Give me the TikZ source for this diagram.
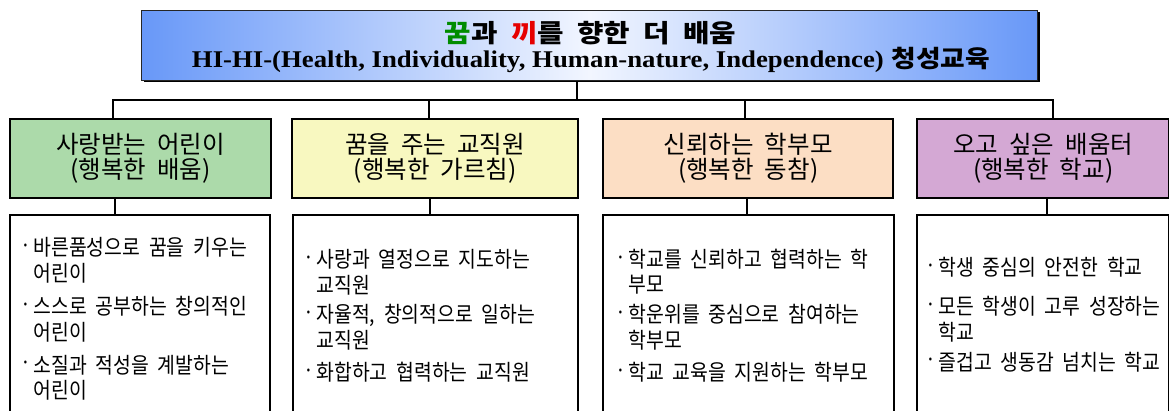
\documentclass[tikz,border=0pt]{standalone}
\usepackage{fontspec}
\setmainfont[WordSpace=2]{Noto Sans CJK KR}
\newfontfamily\itemfont[FakeStretch=0.88,WordSpace=2]{Noto Sans CJK KR}
\newfontfamily\latinserif{Liberation Serif}
\definecolor{tblue}{RGB}{104,152,248}
\definecolor{tmid}{RGB}{242,246,255}
\definecolor{tgreen}{RGB}{0,140,0}
\definecolor{tred}{RGB}{230,0,0}
\definecolor{cgreen}{RGB}{172,218,170}
\definecolor{cyellow}{RGB}{248,248,192}
\definecolor{cpeach}{RGB}{252,222,196}
\definecolor{cpurple}{RGB}{212,168,212}
\newcommand{\mybul}[1]{\begin{tabular}[t]{@{}l@{\hspace{2.5pt}}l@{}}\raisebox{2pt}{·}&#1\end{tabular}}
\begin{document}
\begin{tikzpicture}[x=1pt,y=-1pt,
  conn/.style={draw=black,line width=2pt},
  titlebox/.style={anchor=north west,draw=black!85,line width=0.8pt,inner sep=0pt,
    left color=tblue,right color=tblue,middle color=tmid},
  catbox/.style={draw=black,line width=2.4pt,anchor=north west,inner sep=0pt,align=center,
    font=\fontsize{24.5}{25}\selectfont,minimum height=79pt},
  listbox/.style={draw=black,line width=2pt,anchor=north west,inner sep=0pt,minimum height=220pt,fill=white},
  item/.style={anchor=base west,inner sep=0pt,font=\itemfont\fontsize{22}{23}\selectfont}]
\useasboundingbox (0,0) rectangle (1169,411);
% title
\fill[black] (143.5,12.5) rectangle (1039.5,82.5);
\node[titlebox,minimum width=896pt,minimum height=70pt] (title) at (141,10) {};
\node[anchor=base,inner sep=0pt,font=\bfseries\fontsize{25}{25}\selectfont] (ttl1) at (590.5,43)
  {\resizebox{291pt}{\height}{\textcolor{tgreen}{꿈}과 \textcolor{tred}{끼}를 향한 더 배움}};
\node[anchor=base,inner sep=0pt,font=\bfseries\fontsize{24}{24}\selectfont] (ttl2) at (591,68)
  {\resizebox{798pt}{\height}{{\latinserif HI-HI-(Health, Individuality, Human-nature, Independence)}\hspace{7pt}청성교육}};
% category boxes
\node[catbox,fill=cgreen,minimum width=261pt] (c1) at (9,118) {사랑받는 어린이\\(행복한 배움)};
\node[catbox,fill=cyellow,minimum width=286pt] (c2) at (291,118) {꿈을 주는 교직원\\(행복한 가르침)};
\node[catbox,fill=cpeach,minimum width=290pt] (c3) at (602,118) {신뢰하는 학부모\\(행복한 동참)};
\node[catbox,fill=cpurple,minimum width=252pt] (c4) at (916,118) {오고 싶은 배움터\\(행복한 학교)};
% list boxes
\node[listbox,minimum width=260pt] (l1) at (9,214) {};
\node[listbox,minimum width=285pt] (l2) at (292,214) {};
\node[listbox,minimum width=291pt] (l3) at (602,214) {};
\node[listbox,minimum width=252pt] (l4) at (916,214) {};
% connectors
\coordinate (t0) at (577,100);
\coordinate (t1) at (113,100);
\coordinate (t2) at (429,100);
\coordinate (t3) at (745,100);
\coordinate (t4) at (1053,100);
\draw[conn] (t0 |- title.south) -- (t0);
\draw[conn] (t1 |- c1.north) -- (t1) -- (t4) -- (t4 |- c4.north);
\draw[conn] (t2) -- (t2 |- c2.north);
\draw[conn] (t3) -- (t3 |- c3.north);
\coordinate (b1) at (115,0);
\coordinate (b2) at (430,0);
\coordinate (b3) at (747,0);
\coordinate (b4) at (1047,0);
\draw[conn] (b1 |- c1.south) -- (b1 |- l1.north);
\draw[conn] (b2 |- c2.south) -- (b2 |- l2.north);
\draw[conn] (b3 |- c3.south) -- (b3 |- l3.north);
\draw[conn] (b4 |- c4.south) -- (b4 |- l4.north);
% items box 1
\node[item] (i11) at (20,256) {\mybul{바른품성으로 꿈을 키우는\\&어린이}};
\node[item] (i12) at (20,315) {\mybul{스스로 공부하는 창의적인\\&어린이}};
\node[item] (i13) at (20,373) {\mybul{소질과 적성을 계발하는\\&어린이}};
% items box 2
\node[item] (i21) at (303,268) {\mybul{사랑과 열정으로 지도하는\\&교직원}};
\node[item] (i22) at (303,323) {\mybul{자율적, 창의적으로 일하는\\&교직원}};
\node[item] (i23) at (303,380) {\mybul{화합하고 협력하는 교직원}};
% items box 3
\node[item] (i31) at (615,268) {\mybul{학교를 신뢰하고 협력하는 학\\&부모}};
\node[item] (i32) at (615,323) {\mybul{학운위를 중심으로 참여하는\\&학부모}};
\node[item] (i33) at (615,380) {\mybul{학교 교육을 지원하는 학부모}};
% items box 4
\node[item] (i41) at (925,276) {\mybul{학생 중심의 안전한 학교}};
\node[item] (i42) at (925,315) {\mybul{모든 학생이 고루 성장하는\\&학교}};
\node[item] (i43) at (925,370) {\mybul{즐겁고 생동감 넘치는 학교}};
\end{tikzpicture}
\end{document}
